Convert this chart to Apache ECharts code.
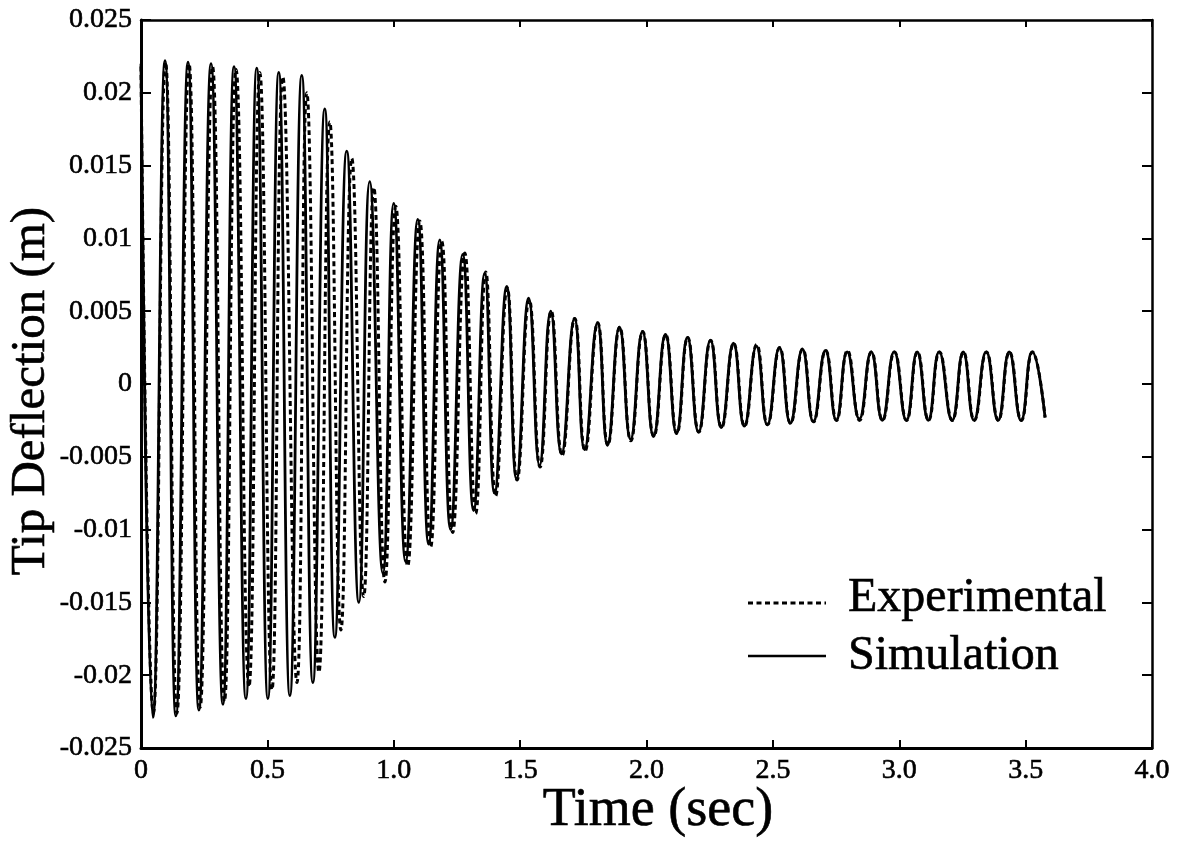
<!DOCTYPE html>
<html>
<head>
<meta charset="utf-8">
<script src="https://cdn.jsdelivr.net/npm/echarts@6/dist/echarts.min.js"></script>
<style>
  html, body { margin: 0; padding: 0; background: #ffffff; }
  #chart { width: 1182px; height: 859px; }
</style>
</head>
<body>
<div id="chart"></div>
<script>
// Free-vibration tip deflection: turning points (time in s, deflection in m)
const simTime = [0, 0.047, 0.095, 0.138, 0.186, 0.229, 0.277, 0.324, 0.368, 0.415,
  0.458, 0.502, 0.545, 0.589, 0.636, 0.680, 0.727, 0.767, 0.814, 0.862,
  0.905, 0.957, 1.000, 1.047, 1.095, 1.138, 1.182, 1.225, 1.273, 1.316,
  1.360, 1.399, 1.447, 1.486, 1.534, 1.577, 1.621, 1.664, 1.715, 1.755,
  1.806, 1.846, 1.893, 1.937, 1.984, 2.028, 2.075, 2.119, 2.162, 2.206,
  2.253, 2.296, 2.344, 2.387, 2.435, 2.478, 2.526, 2.569, 2.617, 2.660,
  2.708, 2.751, 2.794, 2.842, 2.889, 2.933, 2.980, 3.028, 3.071, 3.115,
  3.158, 3.209, 3.253, 3.296, 3.344, 3.391, 3.435, 3.482, 3.526, 3.577];
const simDeflection = [0.0220, -0.0229, 0.0222, -0.0228, 0.0221, -0.0224, 0.0220, -0.0220, 0.0218, -0.0216,
  0.0217, -0.0216, 0.0214, -0.0214, 0.0212, -0.0205, 0.0189, -0.0174, 0.0160, -0.0150,
  0.0139, -0.0130, 0.0124, -0.0122, 0.0113, -0.0110, 0.0099, -0.0100, 0.0089, -0.0087,
  0.0076, -0.0075, 0.0067, -0.0065, 0.0059, -0.0056, 0.0050, -0.0048, 0.0045, -0.0045,
  0.0042, -0.0042, 0.0039, -0.0038, 0.0036, -0.0036, 0.0034, -0.0034, 0.0032, -0.0033,
  0.0030, -0.0030, 0.0028, -0.0029, 0.0026, -0.0028, 0.0025, -0.0027, 0.0024, -0.0026,
  0.0023, -0.0025, 0.0022, -0.0024, 0.0022, -0.0025, 0.0022, -0.0025, 0.0022, -0.0025,
  0.0022, -0.0025, 0.0022, -0.0025, 0.0022, -0.0025, 0.0022, -0.0025, 0.0022, -0.0023];

const expTime = [0, 0.049, 0.097, 0.142, 0.190, 0.234, 0.283, 0.330, 0.376, 0.427,
  0.470, 0.518, 0.561, 0.617, 0.656, 0.704, 0.747, 0.791, 0.834, 0.881,
  0.921, 0.965, 1.008, 1.055, 1.103, 1.146, 1.190, 1.233, 1.281, 1.324,
  1.364, 1.403, 1.449, 1.488, 1.536, 1.579, 1.623, 1.666, 1.716, 1.757,
  1.807, 1.847, 1.894, 1.938, 1.985, 2.029, 2.076, 2.120, 2.163, 2.207,
  2.254, 2.297, 2.345, 2.388, 2.436, 2.479, 2.527, 2.570, 2.618, 2.661,
  2.709, 2.752, 2.795, 2.843, 2.890, 2.934, 2.981, 3.029, 3.072, 3.116,
  3.159, 3.210, 3.254, 3.297, 3.345, 3.392, 3.436, 3.483, 3.527, 3.577];
const expDeflection = [0.0218, -0.0226, 0.0221, -0.0226, 0.0220, -0.0222, 0.0218, -0.0218, 0.0216, -0.0208,
  0.0214, -0.0210, 0.0211, -0.0205, 0.0200, -0.0198, 0.0180, -0.0169, 0.0155, -0.0146,
  0.0135, -0.0136, 0.0122, -0.0125, 0.0112, -0.0112, 0.0098, -0.0102, 0.0090, -0.0089,
  0.0077, -0.0077, 0.0066, -0.0066, 0.0058, -0.0057, 0.0050, -0.0049, 0.0045, -0.0046,
  0.0042, -0.0042, 0.0039, -0.0039, 0.0036, -0.0036, 0.0034, -0.0034, 0.0032, -0.0033,
  0.0030, -0.0030, 0.0028, -0.0029, 0.0027, -0.0028, 0.0025, -0.0027, 0.0024, -0.0026,
  0.0023, -0.0025, 0.0023, -0.0025, 0.0022, -0.0025, 0.0022, -0.0025, 0.0022, -0.0025,
  0.0022, -0.0025, 0.0022, -0.0025, 0.0022, -0.0025, 0.0022, -0.0025, 0.0022, -0.0023];

const xTickLabels = ['0', '0.5', '1.0', '1.5', '2.0', '2.5', '3.0', '3.5', '4.0'];
const yTickLabels = ['-0.025', '-0.02', '-0.015', '-0.01', '-0.005', '0',
  '0.005', '0.01', '0.015', '0.02', '0.025'];
const seriesNames = ['Experimental', 'Simulation'];

const X_MIN = 0, X_MAX = 4, X_STEP = 0.5;
const Y_MIN = -0.025, Y_MAX = 0.025, Y_STEP = 0.005;
const FONT = 'Liberation Serif';
const DASH = [5, 3.5];

function zip(ts, vs) { return ts.map((t, i) => [t, vs[i]]); }

const chart = echarts.init(document.getElementById('chart'), null, { renderer: 'canvas' });

const tickStyle = { color: '#000', width: 2 };
const labelStyle = {
  show: true, margin: 9, color: '#000', fontFamily: FONT, fontSize: 28,
  textBorderColor: '#000', textBorderWidth: 0.6
};
const frameAxis = (extra) => Object.assign({
  type: 'value',
  axisLine: { show: true, onZero: false, lineStyle: { color: '#000', width: 2.5 } },
  axisTick: { show: true, inside: true, lineStyle: tickStyle },
  axisLabel: { show: false },
  splitLine: { show: false }
}, extra);

// Legend key: a short line sample followed by the series name
function legendEntry(lineY, textY, name, dashed) {
  return [
    {
      type: 'line', silent: true,
      shape: { x1: 748, y1: lineY, x2: 826, y2: lineY },
      style: { stroke: '#000', lineWidth: dashed ? 2.8 : 2.6, lineDash: dashed ? DASH : null }
    },
    {
      type: 'text', silent: true,
      x: 848, y: textY,
      style: {
        text: name, fill: '#000', stroke: '#000', lineWidth: 0.6,
        font: '48px "Liberation Serif"', textAlign: 'left', textVerticalAlign: 'middle'
      }
    }
  ];
}

chart.setOption({
  animation: false,
  backgroundColor: '#ffffff',
  grid: { left: 141, right: 30, top: 20, bottom: 111 },
  xAxis: [
    frameAxis({
      position: 'bottom', min: X_MIN, max: X_MAX, interval: X_STEP,
      axisLine: { show: true, onZero: false, lineStyle: { color: '#000', width: 3 } },
      axisTick: { show: true, inside: true, length: 8, lineStyle: tickStyle },
      axisLabel: Object.assign({}, labelStyle, {
        formatter: v => xTickLabels[Math.round((v - X_MIN) / X_STEP)]
      })
    }),
    frameAxis({
      position: 'top', min: X_MIN, max: X_MAX, interval: X_STEP,
      axisTick: { show: true, inside: true, length: 7, lineStyle: tickStyle }
    })
  ],
  yAxis: [
    frameAxis({
      position: 'left', min: Y_MIN, max: Y_MAX, interval: Y_STEP,
      axisLine: { show: true, onZero: false, lineStyle: { color: '#000', width: 3 } },
      axisTick: { show: true, inside: true, length: 10, lineStyle: tickStyle },
      axisLabel: Object.assign({}, labelStyle, {
        formatter: v => yTickLabels[Math.round((v - Y_MIN) / Y_STEP)]
      })
    }),
    frameAxis({
      position: 'right', min: Y_MIN, max: Y_MAX, interval: Y_STEP,
      axisTick: { show: true, inside: true, length: 10, lineStyle: tickStyle }
    })
  ],
  series: [
    {
      name: seriesNames[0],
      type: 'line',
      data: zip(expTime, expDeflection),
      smooth: 0.5,
      symbol: 'none',
      showSymbol: false,
      lineStyle: { color: '#000', width: 3, type: DASH },
      z: 3
    },
    {
      name: seriesNames[1],
      type: 'line',
      data: zip(simTime, simDeflection),
      smooth: 0.5,
      symbol: 'none',
      showSymbol: false,
      lineStyle: { color: '#000', width: 2.8, type: 'solid' },
      z: 4
    }
  ],
  graphic: [
    {
      type: 'text',
      x: 658, y: 811,
      style: {
        text: 'Time (sec)', fill: '#000', stroke: '#000', lineWidth: 0.6,
        font: '54px "Liberation Serif"', textAlign: 'center', textVerticalAlign: 'middle'
      }
    },
    {
      type: 'text',
      x: 31, y: 391,
      rotation: Math.PI / 2,
      style: {
        text: 'Tip Deflection (m)', fill: '#000', stroke: '#000', lineWidth: 0.6,
        font: '49px "Liberation Serif"', textAlign: 'center', textVerticalAlign: 'middle'
      }
    }
  ].concat(
    legendEntry(603, 598, seriesNames[0], true),
    legendEntry(656, 656, seriesNames[1], false)
  )
});
</script>
</body>
</html>
